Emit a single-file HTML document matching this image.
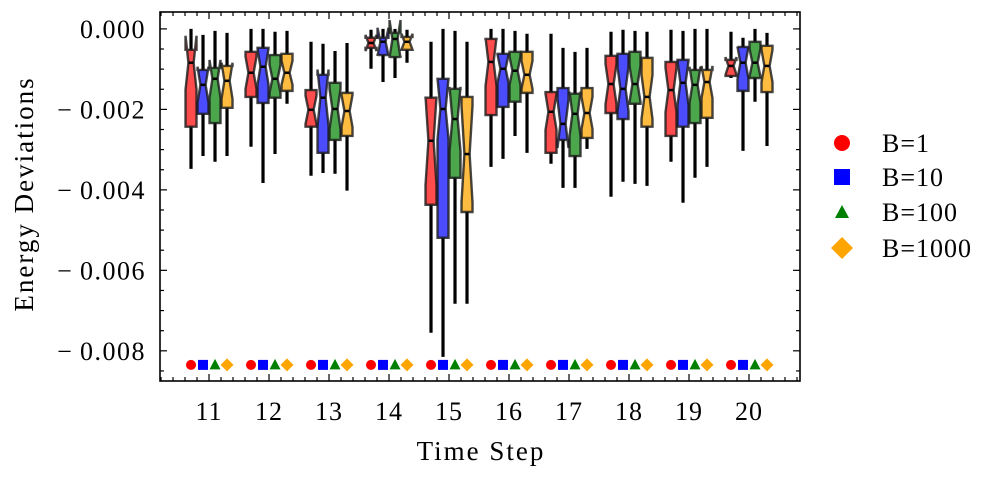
<!DOCTYPE html>
<html><head><meta charset="utf-8"><style>
html,body{margin:0;padding:0;background:#fff}
svg{display:block;font-family:"Liberation Serif",serif}
</style></head><body>
<svg id="chart" width="996" height="477" viewBox="0 0 996 477" xmlns="http://www.w3.org/2000/svg">
<g id="plot"></g>
</svg>
<script>
const categories = [11,12,13,14,15,16,17,18,19,20];
const seriesNames = ["B=1","B=10","B=100","B=1000"];
// values in units of 1e-3
const whisHi = [
 [0.00,-0.15,-0.05,-0.10],[0.00,0.00,-0.07,-0.05],[-0.32,-0.37,-0.55,-0.35],[-0.02,0.00,0.00,-0.02],
 [-0.32,0.00,-0.05,-0.32],[0.00,0.00,-0.05,-0.12],[-0.12,-0.47,-0.57,-0.47],[-0.07,-0.02,-0.05,-0.07],
 [-0.02,-0.05,0.00,0.00],[-0.07,-0.22,0.00,-0.10]];
const q3 = [
 [-0.52,-1.02,-0.97,-0.92],[-0.57,-0.47,-0.65,-0.62],[-1.52,-1.14,-1.34,-1.59],[-0.22,-0.22,-0.10,-0.20],
 [-1.71,-1.24,-1.49,-1.69],[-0.25,-0.62,-0.57,-0.57],[-1.57,-1.47,-1.61,-1.47],[-0.67,-0.62,-0.57,-0.72],
 [-0.82,-0.77,-1.02,-1.02],[-0.77,-0.45,-0.32,-0.42]];
const medians = [
 [-0.84,-1.39,-1.24,-1.29],[-1.09,-0.94,-1.24,-1.09],[-2.01,-1.71,-1.99,-2.04],[-0.35,-0.32,-0.25,-0.32],
 [-2.78,-1.99,-2.24,-3.11],[-0.82,-0.99,-1.04,-1.14],[-2.06,-2.36,-2.11,-2.09],[-1.37,-1.49,-1.37,-1.69],
 [-1.52,-1.34,-1.39,-1.32],[-0.92,-0.84,-0.84,-0.92]];
const q1 = [
 [-2.43,-2.11,-2.34,-1.96],[-1.69,-1.84,-1.71,-1.54],[-2.43,-3.08,-2.76,-2.66],[-0.47,-0.65,-0.70,-0.52],
 [-4.37,-5.19,-3.70,-4.55],[-2.14,-1.94,-1.81,-1.59],[-3.08,-2.76,-3.16,-2.71],[-2.09,-2.24,-1.86,-2.43],
 [-2.66,-2.43,-2.34,-2.21],[-1.17,-1.54,-1.22,-1.57]];
const whisLo = [
 [-3.48,-3.16,-3.30,-3.16],[-2.93,-3.83,-3.11,-1.86],[-3.65,-3.58,-3.60,-4.02],[-0.99,-1.32,-1.22,-0.84],
 [-7.55,-8.15,-6.83,-6.83],[-3.43,-3.23,-2.66,-3.08],[-3.35,-3.95,-3.95,-2.98],[-4.17,-3.80,-3.85,-3.90],
 [-3.30,-4.32,-3.70,-3.43],[-1.22,-3.03,-1.81,-2.91]];
const notchHalf = [
 [0.67,0.45,0.47,0.45],[0.40,0.45,0.35,0.30],[0.35,0.70,0.50,0.40],[0.20,0.35,0.47,0.20],
 [1.10,0.75,0.80,1.20],[0.60,0.35,0.35,0.35],[0.45,0.60,0.55,0.40],[0.50,0.55,0.45,0.55],
 [0.55,0.55,0.45,0.40],[0.22,0.40,0.35,0.40]];
const markerLevel = -8.35;
const yTicks = [0,-2,-4,-6,-8];
const yTickLabels = ["0.000","\u2212\u20090.002","\u2212\u20090.004","\u2212\u20090.006","\u2212\u20090.008"];

const NS="http://www.w3.org/2000/svg";
const L=160,R=800,T=12,B=381;
const xMin=10.183,xMax=20.85,yMin=-8.75,yMax=0.42;
const X=v=>L+(v-xMin)/(xMax-xMin)*(R-L);
const Y=v=>T+(yMax-v)/(yMax-yMin)*(B-T);
const offs=[-0.3,-0.1,0.1,0.3];
const fills=["rgba(255,0,0,0.7)","rgba(0,0,255,0.7)","rgba(0,128,0,0.7)","rgba(255,165,0,0.75)"];
const solid=["#ff0000","#0000ff","#008000","#ffa500"];
const g=document.getElementById('plot');
function mk(tag,attrs,parent){const e=document.createElementNS(NS,tag);for(const k in attrs)e.setAttribute(k,attrs[k]);(parent||g).appendChild(e);return e;}

categories.forEach((c,i)=>{
  const grp=mk('g',{});
  
  
  for(let s=0;s<4;s++){
    const cx=X(c+offs[s]), hw=5.5, cut=2.6;
    const w=mk('path',{d:`M${cx},${Y(q3[i][s])}L${cx},${Y(whisHi[i][s])}M${cx},${Y(q1[i][s])}L${cx},${Y(whisLo[i][s])}`,stroke:'#000','stroke-width':3.2,fill:'none'},grp);
    
    
    const m=medians[i][s],n=notchHalf[i][s];
    const yq1=Y(q1[i][s]),yq3=Y(q3[i][s]),ym=Y(m),ynl=Y(m-n),ynh=Y(m+n);
    const d=`M${cx-hw},${yq1}L${cx+hw},${yq1}L${cx+hw},${ynl}L${cx+cut},${ym}L${cx+hw},${ynh}L${cx+hw},${yq3}L${cx-hw},${yq3}L${cx-hw},${ynh}L${cx-cut},${ym}L${cx-hw},${ynl}Z`;
    const b=mk('path',{d:d,fill:fills[s],stroke:'rgba(25,25,25,0.8)','stroke-width':2.4,'stroke-linejoin':'miter'},grp);
    
    
    const md=mk('line',{x1:cx-cut,x2:cx+cut,y1:ym,y2:ym,stroke:'#000','stroke-width':2.5},grp);
    
    
    const my=Y(markerLevel);
    let mm;
    if(s===0) mm=mk('circle',{cx:cx,cy:my,r:5,fill:solid[0]},grp);
    else if(s===1) mm=mk('rect',{x:cx-5,y:my-5,width:10,height:10,fill:solid[1]},grp);
    else if(s===2) mm=mk('path',{d:`M${cx},${my-6}L${cx+5.5},${my+4.5}L${cx-5.5},${my+4.5}Z`,fill:solid[2]},grp);
    else mm=mk('path',{d:`M${cx},${my-6.5}L${cx+6.5},${my}L${cx},${my+6.5}L${cx-6.5},${my}Z`,fill:solid[3]},grp);
    
    
  }
});

const fr=mk('rect',{x:L,y:T,width:R-L,height:B-T,fill:'none',stroke:'#000','stroke-width':1.6});



for(let v=-8.5;v<=0.42;v+=0.5){
  const y=Y(v),major=Math.abs(v/2-Math.round(v/2))<1e-6,len=major?7:4;
  mk('line',{x1:L,x2:L+len,y1:y,y2:y,stroke:'#000','stroke-width':1.2});
  mk('line',{x1:R,x2:R-len,y1:y,y2:y,stroke:'#000','stroke-width':1.2});
}
yTicks.forEach((v,k)=>{
  const t=mk('text',{x:146,y:Y(v)+9,'text-anchor':'end','font-size':26,'letter-spacing':1.5});
  t.textContent=yTickLabels[k];
  
  
});
for(let v=10.2;v<=20.85;v+=0.2){
  const x=X(v),major=Math.abs(v-Math.round(v))<1e-6,len=major?7:4;
  mk('line',{x1:x,x2:x,y1:B,y2:B-len,stroke:'#000','stroke-width':1.2});
  mk('line',{x1:x,x2:x,y1:T,y2:T+len,stroke:'#000','stroke-width':1.2});
}
categories.forEach(c=>{
  const t=mk('text',{x:X(c),y:420,'text-anchor':'middle','font-size':26,'letter-spacing':1});
  t.textContent=c;
  
  
});
const xl=mk('text',{x:481,y:460,'text-anchor':'middle','font-size':27,'letter-spacing':2});
xl.textContent='Time Step';


const yl=mk('text',{x:0,y:0,'text-anchor':'middle','font-size':27,'letter-spacing':2,transform:'translate(33,194) rotate(-90)'});
yl.textContent='Energy Deviations';



const lg=mk('g',{});


const ly=[143,177,212,248];
seriesNames.forEach((nm,s)=>{
  const cx=842,cy=ly[s];
  let m;
  if(s===0) m=mk('circle',{cx:cx,cy:cy,r:8,fill:solid[0]},lg);
  else if(s===1) m=mk('rect',{x:cx-8,y:cy-8,width:16,height:16,fill:solid[1]},lg);
  else if(s===2) m=mk('path',{d:`M${cx},${cy-7}L${cx+7},${cy+6}L${cx-7},${cy+6}Z`,fill:solid[2]},lg);
  else m=mk('path',{d:`M${cx},${cy-11}L${cx+11},${cy}L${cx},${cy+11}L${cx-11},${cy}Z`,fill:solid[3]},lg);
  
  
  const t=mk('text',{x:882,y:cy+9,'font-size':26,'letter-spacing':1},lg);
  t.textContent=nm;
  
  
});
</script>
</body></html>
